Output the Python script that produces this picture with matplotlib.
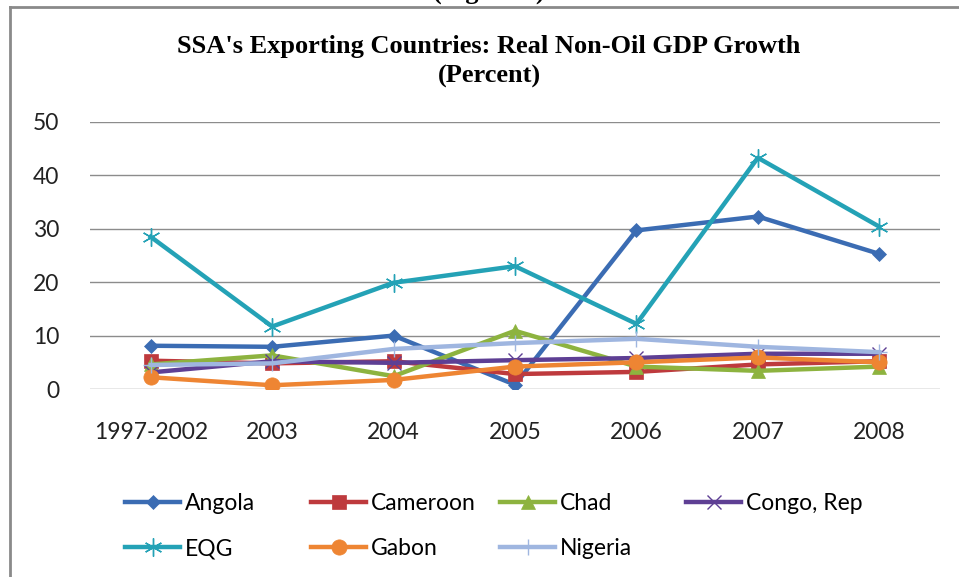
import matplotlib
matplotlib.use("Agg")
import matplotlib.pyplot as plt
from matplotlib.lines import Line2D

# categories and series (percent)
years = ["1997-2002", "2003", "2004", "2005", "2006", "2007", "2008"]
angola = [8.1, 7.9, 10.0, 0.8, 29.7, 32.3, 25.3]
cameroon = [5.3, 4.8, 5.2, 2.8, 3.2, 4.6, 5.2]
chad = [4.6, 6.3, 2.4, 10.9, 4.2, 3.4, 4.2]
congo = [3.1, 5.2, 4.9, 5.4, 5.8, 6.6, 6.6]
eqg = [28.5, 11.7, 19.9, 23.0, 12.2, 43.3, 30.4]
gabon = [2.2, 0.7, 1.7, 4.2, 5.0, 5.9, 5.0]
nigeria = [4.5, 4.8, 7.5, 8.6, 9.4, 7.9, 6.9]

series = [
    ("Angola", angola, "#3B6CB3", "D", 7.5),
    ("Cameroon", cameroon, "#BE3A3D", "s", 10),
    ("Chad", chad, "#8DB33F", "^", 10),
    ("Congo, Rep", congo, "#5E3F94", "x", 10),
    ("EQG", eqg, "#24A2B6", (6, 2, 0), 13),
    ("Gabon", gabon, "#EE8533", "o", 11),
    ("Nigeria", nigeria, "#9FB6E0", "+", 11),
]

tick_font = "Lato"
serif = "Liberation Serif"

fig = plt.figure(figsize=(9.59, 5.77), dpi=100)
ax = fig.add_axes([90 / 959, 1 - 389 / 577, 850 / 959, 267 / 577])

x = list(range(len(years)))
handles = []
for name, vals, col, mk, ms in series:
    thin = mk in ("x", "+") or isinstance(mk, tuple)
    ln, = ax.plot(x, vals, color=col, lw=3.2, marker=mk, markersize=ms,
                  markeredgewidth=1.0 if thin else 0.5,
                  markeredgecolor=col, markerfacecolor=col, label=name,
                  solid_joinstyle="round")
    handles.append(ln)

ax.set_xlim(-0.5, len(years) - 0.5)
ax.set_ylim(0, 50)
ax.set_yticks(range(0, 51, 10))
ax.set_xticks(x)
ax.set_xticklabels(years)
ax.grid(axis="y", color="#8c8c8c", lw=1.0)
ax.set_axisbelow(True)
for s in ax.spines.values():
    s.set_visible(False)
ax.tick_params(length=0, labelsize=16.5, colors="#222222")
ax.tick_params(axis="y", pad=22)
ax.tick_params(axis="x", pad=24)
for lab in ax.get_xticklabels() + ax.get_yticklabels():
    lab.set_fontfamily(tick_font)

# title
fig.text(489 / 959, 1 - 46 / 577, "SSA's Exporting Countries: Real Non-Oil GDP Growth",
         ha="center", va="center", fontsize=19, fontweight="bold", family=serif)
fig.text(489 / 959, 1 - 76 / 577, "(Percent)", ha="center", va="center",
         fontsize=19, fontweight="bold", family=serif)
fig.text(489 / 959, 1 + 1 / 577, "(Figure 1)", ha="center", va="baseline",
         fontsize=19, fontweight="bold", family=serif)

# legend: 4 evenly spaced columns, row-major order
col_x = [116, 302, 491, 677]
for j, cx in enumerate(col_x):
    hs = [handles[j]] + ([handles[j + 4]] if j + 4 < len(handles) else [])
    fig.legend(handles=hs, loc="upper left",
               bbox_to_anchor=(cx / 959, 1 - 484 / 577),
               frameon=False, handlelength=2.4, handletextpad=0.2,
               labelspacing=1.05, borderaxespad=0,
               prop={"family": tick_font, "size": 16.5})

# chart frame (left and top edges)
fig.add_artist(Line2D([10 / 959, 10 / 959], [0, 1 - 7 / 577], color="#8a8a8a",
                      lw=2, transform=fig.transFigure))
fig.add_artist(Line2D([10 / 959, 1], [1 - 7 / 577, 1 - 7 / 577], color="#8a8a8a",
                      lw=2, transform=fig.transFigure))

fig.savefig("out.png", dpi=100)
